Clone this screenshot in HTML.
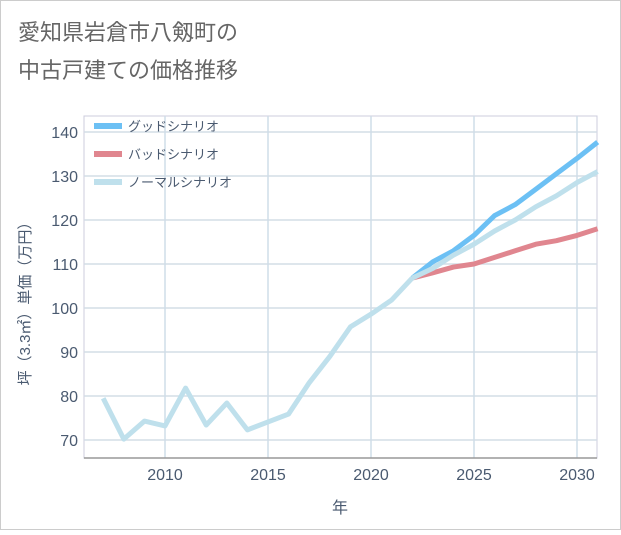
<!DOCTYPE html>
<html><head><meta charset="utf-8"><style>
body{margin:0;background:#fff;font-family:"Liberation Sans","Noto Sans CJK JP",sans-serif;}
svg text{font-family:"Liberation Sans","Noto Sans CJK JP",sans-serif;}
</style></head><body>
<svg id="c" width="621" height="530" xmlns="http://www.w3.org/2000/svg">
<rect x="0.5" y="0.5" width="620" height="529" fill="#fff" stroke="#ccc"/>
<text x="18" y="40" font-size="22" fill="#666">愛知県岩倉市八剱町の</text>
<text x="18" y="78" font-size="22" fill="#666">中古戸建ての価格推移</text>
<g id="grid"></g>
<g id="lines"></g>
<text x="30" y="300" font-size="15" fill="#4a5a70" transform="rotate(-90 30 300)" text-anchor="middle">坪（3.3㎡）単価（万円）</text>
<text x="340" y="513" font-size="16" fill="#4a5a70" text-anchor="middle">年</text>
<g id="legend"></g>
</svg>
<script>
const years=[2007,2008,2009,2010,2011,2012,2013,2014,2015,2016,2017,2018,2019,2020,2021,2022];
const hist=[79.5,70.2,74.3,73.2,81.8,73.4,78.4,72.3,74.1,75.9,83,89,95.7,98.6,101.8,106.8];
const futYears=[2022,2023,2024,2025,2026,2027,2028,2029,2030,2031];
const good=[106.8,110.5,113,116.5,121,123.5,127,130.5,134,137.7];
const bad=[106.8,108,109.3,110,111.5,113,114.5,115.3,116.5,118];
const normal=[106.8,109,112,114.5,117.5,120,123,125.5,128.5,131];
const yTicks=[70,80,90,100,110,120,130,140];
const xTicks=[2010,2015,2020,2025,2030];
const L=84,R=597,T=116,B=458;
const X=y=>165+(y-2010)*20.6;
const Y=v=>132+(140-v)*4.4;
const NS="http://www.w3.org/2000/svg";
function mk(tag,attrs,parent){const e=document.createElementNS(NS,tag);for(const k in attrs)e.setAttribute(k,attrs[k]);parent.appendChild(e);return e;}
const g=document.getElementById('grid');
mk('rect',{x:L,y:T,width:R-L,height:B-T,fill:'#fff',stroke:'#ccd'},g);
for(const v of yTicks){
 const l=mk('line',{x1:L,x2:R,y1:Y(v),y2:Y(v),stroke:'#d4dde6','stroke-width':1.5},g);
 
 
 const t=mk('text',{x:L-6,y:Y(v)+6,'font-size':16,fill:'#4a5a70','text-anchor':'end'},g);t.textContent=v;
 
 
}
for(const yr of xTicks){
 const l=mk('line',{x1:X(yr),x2:X(yr),y1:T,y2:B,stroke:'#cfdde8','stroke-width':1.5},g);
 
 
 const t=mk('text',{x:X(yr),y:B+22,'font-size':16,fill:'#4a5a70','text-anchor':'middle'},g);t.textContent=yr;
 
 
}
mk('line',{x1:L,x2:R,y1:B,y2:B,stroke:'#999','stroke-width':1.5},g);
const lg=document.getElementById('lines');
function line(xs,vs,color,name){
 const p=mk('polyline',{points:xs.map((x,i)=>X(x)+','+Y(vs[i])).join(' '),fill:'none',stroke:color,'stroke-width':5,'stroke-linejoin':'round'},lg);
 
 
}
line(futYears,bad,'#e0868f','bad-scenario-line');
line(futYears,good,'#6cc0f4','good-scenario-line');
line(futYears,normal,'#bfe0ec','normal-scenario-line');
line(years,hist,'#bfe0ec','historical-line');
const leg=document.getElementById('legend');
const items=[['グッドシナリオ','#6cc0f4'],['バッドシナリオ','#e0868f'],['ノーマルシナリオ','#bfe0ec']];
items.forEach((it,i)=>{
 const y=126+i*28;
 const gi=mk('g',{},leg);
 
 
 mk('line',{x1:94,x2:122,y1:y,y2:y,stroke:it[1],'stroke-width':6},gi);
 const t=mk('text',{x:128,y:y+5,'font-size':13,fill:'#4a5a70'},gi);t.textContent=it[0];
});
</script>
</body></html>
